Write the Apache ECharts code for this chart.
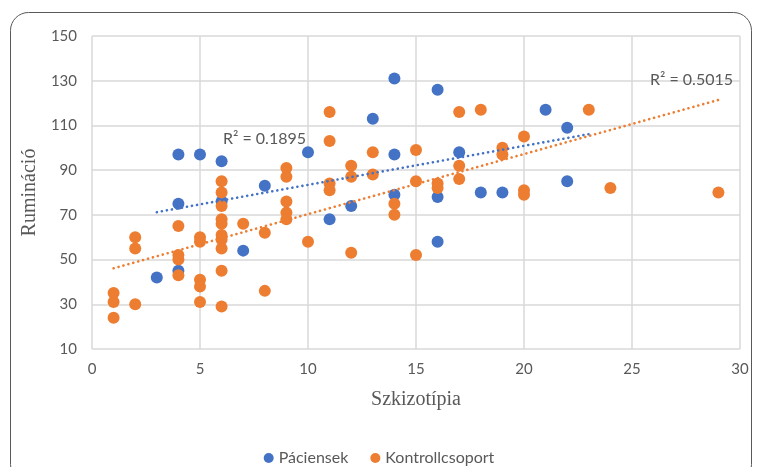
<!DOCTYPE html>
<html>
<head>
<meta charset="utf-8">
<script src="https://cdn.jsdelivr.net/npm/echarts@6/dist/echarts.min.js"></script>
<style>
  html, body { margin: 0; padding: 0; background: #ffffff; }
  #chart { width: 758px; height: 467px; }
</style>
</head>
<body>
<div id="chart"></div>
<script>
// Páciensek: schizotypy score (x) and rumination score (y)
const patientX = [4, 5, 6, 8, 10, 13, 14, 16, 21, 22, 14, 17, 12, 11, 14, 16, 18, 19, 22, 16, 7, 4, 6, 4, 3];
const patientY = [97, 97, 94, 83, 98, 113, 131, 126, 117, 109, 97, 98, 74, 68, 79, 78, 80, 80, 85, 58, 54, 75, 76, 45, 42];

// Kontrollcsoport
const controlX = [1, 1, 1,
  2, 2, 2,
  4, 4, 4, 4,
  5, 5, 5, 5, 5,
  6, 6, 6, 6, 6, 6, 6, 6, 6, 6,
  7, 8, 8,
  9, 9, 9, 9, 9,
  10, 11, 11, 11, 11,
  12, 12, 12, 13, 13, 14, 14,
  15, 15, 15, 16, 16,
  17, 17, 17, 18, 19, 19,
  20, 20, 20, 23, 24, 29];
const controlY = [35, 31, 24,
  60, 55, 30,
  65, 52, 50, 43,
  60, 58, 41, 38, 31,
  85, 80, 74, 68, 66, 61, 59, 55, 45, 29,
  66, 62, 36,
  91, 87, 76, 71, 68,
  58, 116, 103, 84, 81,
  92, 87, 53, 98, 88, 75, 70,
  99, 85, 52, 84, 82,
  116, 92, 86, 117, 100, 97,
  105, 81, 79, 117, 82, 80];

// Linear trendline end points
const patientTrendX = [3, 23];
const patientTrendY = [71.2, 106.1];
const controlTrendX = [1, 29];
const controlTrendY = [46.1, 121.4];

const patientR2 = 'R² = 0.1895';
const controlR2 = 'R² = 0.5015';

const seriesNames = ['Páciensek', 'Kontrollcsoport'];
const xTitle = 'Szkizotípia';
const yTitle = 'Rumináció';

const BLUE = '#4472C4';
const ORANGE = '#ED7D31';
const TEXT = '#595959';
const GRID = '#d9d9d9';
const SANS = 'Lato, "Noto Sans", sans-serif';
const SERIF = '"Liberation Serif", "DejaVu Serif", serif';

const zip = (xs, ys) => xs.map((x, i) => [x, ys[i]]);

const trendStyle = color => ({
  color: color,
  width: 2.6,
  type: [0.1, 5],
  cap: 'round'
});

const chart = echarts.init(document.getElementById('chart'), null, { renderer: 'canvas' });

chart.setOption({
  animation: false,
  backgroundColor: '#ffffff',
  grid: { left: 92, right: 18, top: 36, bottom: 118 },
  xAxis: {
    type: 'value',
    min: 0, max: 30, interval: 5,
    name: xTitle,
    nameLocation: 'middle',
    nameGap: 41,
    nameTextStyle: { fontFamily: SERIF, fontSize: 20, color: TEXT },
    axisLine: { show: false },
    axisTick: { show: false },
    axisLabel: { color: TEXT, fontFamily: SANS, fontSize: 15, margin: 13 },
    splitLine: { show: true, lineStyle: { color: GRID, width: 1.5 } }
  },
  yAxis: {
    type: 'value',
    min: 10, max: 150, interval: 20,
    name: yTitle,
    nameLocation: 'middle',
    nameGap: 48,
    nameTextStyle: { fontFamily: SERIF, fontSize: 20, color: TEXT },
    axisLine: { show: false },
    axisTick: { show: false },
    axisLabel: { color: TEXT, fontFamily: SANS, fontSize: 15, margin: 15 },
    splitLine: { show: true, lineStyle: { color: GRID, width: 1.5 } }
  },
  legend: {
    data: seriesNames,
    top: 445,
    left: 'center',
    icon: 'circle',
    itemWidth: 10,
    itemHeight: 10,
    itemGap: 22,
    textStyle: { color: TEXT, fontFamily: SANS, fontSize: 16 }
  },
  series: [
    {
      name: seriesNames[0],
      type: 'scatter',
      symbolSize: 12,
      itemStyle: { color: BLUE, opacity: 1 },
      data: zip(patientX, patientY),
      z: 2
    },
    {
      name: seriesNames[1],
      type: 'scatter',
      symbolSize: 12,
      itemStyle: { color: ORANGE, opacity: 1 },
      data: zip(controlX, controlY),
      z: 3
    },
    {
      name: 'trend-p',
      type: 'line',
      symbol: 'none',
      silent: true,
      lineStyle: trendStyle(BLUE),
      data: zip(patientTrendX, patientTrendY),
      z: 4
    },
    {
      name: 'trend-k',
      type: 'line',
      symbol: 'none',
      silent: true,
      lineStyle: trendStyle(ORANGE),
      data: zip(controlTrendX, controlTrendY),
      z: 5
    }
  ],
  graphic: [
    {
      type: 'rect',
      shape: { x: 10.5, y: 12.5, width: 741, height: 470, r: 18 },
      style: { fill: 'none', stroke: '#595959', lineWidth: 1 },
      silent: true,
      z: 0
    },
    {
      type: 'text',
      left: 223, top: 131,
      style: { text: patientR2, fill: TEXT, font: '16px ' + SANS },
      z: 10
    },
    {
      type: 'text',
      left: 650, top: 72,
      style: { text: controlR2, fill: TEXT, font: '16px ' + SANS },
      z: 10
    }
  ]
});
</script>
</body>
</html>
